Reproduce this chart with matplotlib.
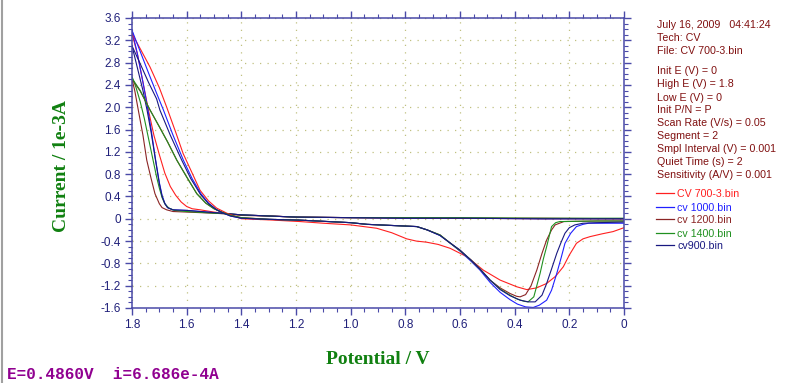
import matplotlib
matplotlib.use("Agg")
import matplotlib.pyplot as plt
from matplotlib.lines import Line2D
from matplotlib.ticker import MultipleLocator

# ---- data (E in V, i in 1e-3 A) ----
names = ["CV 700-3.bin", "cv 1000.bin", "cv 1200.bin", "cv 1400.bin", "cv900.bin"]
colors = ["#ff2020", "#2020ff", "#8b2525", "#209020", "#181880"]

# forward scans, 0 -> 1.8 V
red_fwd_E = [0.0, 0.3, 0.6, 0.8, 1.0, 1.2, 1.3, 1.4, 1.45, 1.5, 1.55, 1.58, 1.6, 1.62, 1.64, 1.66, 1.68, 1.7, 1.72, 1.74, 1.76, 1.78, 1.8]
red_fwd_I = [0.0, 0.0, 0.01, 0.01, 0.02, 0.03, 0.05, 0.07, 0.09, 0.12, 0.16, 0.18, 0.22, 0.3, 0.42, 0.58, 0.82, 1.15, 1.5, 1.95, 2.45, 2.95, 3.32]
blue_fwd_E = [0.0, 0.3, 0.6, 0.8, 1.0, 1.2, 1.3, 1.4, 1.45, 1.5, 1.55, 1.6, 1.65, 1.67, 1.68, 1.69, 1.7, 1.715, 1.73, 1.745, 1.76, 1.78, 1.8]
blue_fwd_I = [0.0, 0.0, 0.01, 0.01, 0.02, 0.03, 0.05, 0.07, 0.09, 0.11, 0.13, 0.15, 0.16, 0.2, 0.28, 0.42, 0.65, 1.1, 1.6, 2.05, 2.45, 2.95, 3.38]
brown_fwd_E = [0.0, 0.3, 0.6, 0.8, 1.0, 1.2, 1.3, 1.4, 1.45, 1.5, 1.6, 1.65, 1.673, 1.69, 1.7, 1.716, 1.73, 1.746, 1.76, 1.777, 1.79, 1.8]
brown_fwd_I = [0.0, 0.01, 0.01, 0.02, 0.02, 0.03, 0.05, 0.06, 0.085, 0.1, 0.12, 0.13, 0.16, 0.2, 0.27, 0.45, 0.72, 1.05, 1.5, 1.95, 2.3, 2.5]
green_fwd_E = [0.0, 0.3, 0.6, 0.8, 1.0, 1.2, 1.3, 1.4, 1.45, 1.5, 1.6, 1.645, 1.665, 1.68, 1.69, 1.7, 1.71, 1.725, 1.74, 1.755, 1.77, 1.785, 1.8]
green_fwd_I = [0.01, 0.01, 0.02, 0.02, 0.02, 0.03, 0.05, 0.07, 0.09, 0.1, 0.13, 0.15, 0.19, 0.27, 0.38, 0.55, 0.75, 1.1, 1.45, 1.8, 2.1, 2.35, 2.55]
navy_fwd_E = [0.0, 0.3, 0.6, 0.8, 1.0, 1.2, 1.3, 1.4, 1.45, 1.5, 1.55, 1.6, 1.65, 1.67, 1.68, 1.69, 1.7, 1.715, 1.73, 1.745, 1.76, 1.78, 1.8]
navy_fwd_I = [0.0, 0.0, 0.01, 0.01, 0.02, 0.03, 0.05, 0.07, 0.09, 0.11, 0.13, 0.15, 0.16, 0.2, 0.27, 0.4, 0.63, 1.08, 1.55, 1.95, 2.3, 2.7, 3.1]

# reverse scans, 1.8 -> 0 V
red_rev_E = [1.8, 1.77, 1.734, 1.7, 1.673, 1.64, 1.613, 1.58, 1.551, 1.52, 1.49, 1.453, 1.42, 1.4, 1.35, 1.3, 1.185, 1.1, 1.0, 0.905, 0.85, 0.795, 0.76, 0.722, 0.68, 0.636, 0.575, 0.515, 0.453, 0.392, 0.356, 0.32, 0.283, 0.25, 0.222, 0.2, 0.174, 0.15, 0.124, 0.08, 0.04, 0.0]
red_rev_I = [3.32, 3.05, 2.72, 2.35, 2.0, 1.55, 1.17, 0.82, 0.51, 0.32, 0.19, 0.1, 0.04, 0.0, -0.01, -0.02, -0.05, -0.08, -0.11, -0.17, -0.25, -0.36, -0.4, -0.42, -0.46, -0.53, -0.68, -0.92, -1.1, -1.22, -1.27, -1.24, -1.16, -1.03, -0.86, -0.65, -0.44, -0.36, -0.32, -0.27, -0.23, -0.16]
blue_rev_E = [1.8, 1.77, 1.74, 1.71, 1.685, 1.65, 1.612, 1.58, 1.548, 1.52, 1.49, 1.47, 1.44, 1.4, 1.3, 1.185, 1.0, 0.94, 0.85, 0.758, 0.72, 0.673, 0.64, 0.6, 0.56, 0.527, 0.49, 0.453, 0.417, 0.39, 0.36, 0.332, 0.31, 0.283, 0.265, 0.246, 0.23, 0.216, 0.195, 0.174, 0.15, 0.13, 0.0]
blue_rev_I = [3.38, 3.0, 2.62, 2.25, 1.95, 1.5, 1.05, 0.72, 0.45, 0.28, 0.16, 0.11, 0.05, 0.01, -0.01, -0.025, -0.07, -0.1, -0.12, -0.14, -0.2, -0.3, -0.42, -0.58, -0.76, -0.92, -1.14, -1.32, -1.45, -1.53, -1.58, -1.59, -1.55, -1.46, -1.28, -0.98, -0.7, -0.44, -0.26, -0.14, -0.1, -0.08, -0.08]
brown_rev_E = [1.8, 1.77, 1.734, 1.7, 1.67, 1.636, 1.6, 1.563, 1.53, 1.5, 1.472, 1.44, 1.4, 1.3, 1.185, 1.0, 0.94, 0.85, 0.758, 0.72, 0.673, 0.64, 0.6, 0.56, 0.527, 0.49, 0.453, 0.417, 0.393, 0.38, 0.36, 0.34, 0.319, 0.3, 0.283, 0.265, 0.252, 0.22, 0.1, 0.0]
brown_rev_I = [2.5, 2.29, 1.95, 1.65, 1.38, 1.05, 0.75, 0.45, 0.28, 0.18, 0.12, 0.06, 0.02, -0.01, -0.025, -0.07, -0.1, -0.12, -0.14, -0.2, -0.29, -0.42, -0.57, -0.74, -0.9, -1.1, -1.24, -1.34, -1.39, -1.4, -1.36, -1.2, -0.92, -0.62, -0.38, -0.2, -0.11, -0.05, -0.04, -0.04]
green_rev_E = [1.8, 1.77, 1.734, 1.7, 1.67, 1.636, 1.6, 1.563, 1.53, 1.5, 1.472, 1.44, 1.4, 1.3, 1.185, 1.0, 0.94, 0.85, 0.758, 0.72, 0.673, 0.64, 0.6, 0.56, 0.527, 0.49, 0.453, 0.417, 0.39, 0.365, 0.351, 0.33, 0.307, 0.295, 0.283, 0.265, 0.25, 0.235, 0.1, 0.0]
green_rev_I = [2.52, 2.3, 1.95, 1.65, 1.38, 1.05, 0.75, 0.45, 0.28, 0.18, 0.12, 0.06, 0.02, -0.01, -0.025, -0.07, -0.1, -0.12, -0.14, -0.2, -0.29, -0.42, -0.57, -0.74, -0.9, -1.1, -1.26, -1.37, -1.44, -1.48, -1.49, -1.4, -0.98, -0.72, -0.5, -0.14, -0.07, -0.05, -0.04, -0.04]
navy_rev_E = [1.8, 1.77, 1.74, 1.71, 1.698, 1.66, 1.618, 1.585, 1.55, 1.52, 1.49, 1.47, 1.44, 1.4, 1.3, 1.185, 1.0, 0.94, 0.85, 0.758, 0.72, 0.673, 0.64, 0.6, 0.56, 0.527, 0.49, 0.453, 0.417, 0.38, 0.35, 0.325, 0.3, 0.283, 0.265, 0.246, 0.23, 0.216, 0.2, 0.18, 0.15, 0.1, 0.0]
navy_rev_I = [3.1, 2.78, 2.45, 2.15, 1.95, 1.5, 1.05, 0.72, 0.44, 0.27, 0.16, 0.11, 0.05, 0.01, -0.01, -0.025, -0.07, -0.1, -0.12, -0.14, -0.2, -0.3, -0.42, -0.56, -0.74, -0.9, -1.1, -1.27, -1.38, -1.46, -1.49, -1.49, -1.37, -1.16, -0.9, -0.62, -0.42, -0.26, -0.16, -0.11, -0.08, -0.07, -0.06]

fwd = [(red_fwd_E, red_fwd_I), (blue_fwd_E, blue_fwd_I), (brown_fwd_E, brown_fwd_I),
       (green_fwd_E, green_fwd_I), (navy_fwd_E, navy_fwd_I)]
rev = [(red_rev_E, red_rev_I), (blue_rev_E, blue_rev_I), (brown_rev_E, brown_rev_I),
       (green_rev_E, green_rev_I), (navy_rev_E, navy_rev_I)]

x_ticks = [1.8, 1.6, 1.4, 1.2, 1.0, 0.8, 0.6, 0.4, 0.2, 0.0]
y_ticks = [3.6, 3.2, 2.8, 2.4, 2.0, 1.6, 1.2, 0.8, 0.4, 0.0, -0.4, -0.8, -1.2, -1.6]

info_lines = ["July 16, 2009   04:41:24", "Tech: CV", "File: CV 700-3.bin",
              "Init E (V) = 0", "High E (V) = 1.8", "Low E (V) = 0", "Init P/N = P",
              "Scan Rate (V/s) = 0.05", "Segment = 2", "Smpl Interval (V) = 0.001",
              "Quiet Time (s) = 2", "Sensitivity (A/V) = 0.001"]
status_text = "E=0.4860V  i=6.686e-4A"

# ---- figure ----
W, H = 800, 383
fig = plt.figure(figsize=(W / 100, H / 100), dpi=100)
fig.patch.set_facecolor("white")


def fx(px):
    return px / W


def fy(py):
    return 1 - py / H


ax = fig.add_axes([fx(132), fy(308), fx(624) - fx(132), fy(18) - fy(308)])

for (e, i), c in zip(fwd, colors):
    ax.plot(e, i, color=c, lw=0.8)
for (e, i), c in zip(rev, colors):
    ax.plot(e, i, color=c, lw=0.8)

ax.set_xlim(1.8, 0.0)
ax.set_ylim(-1.6, 3.6)

frame_col = "#4a4aa8"
for s in ax.spines.values():
    s.set_color(frame_col)
    s.set_linewidth(1.1)

ax.set_xticks(x_ticks)
ax.set_xticklabels(["0" if v == 0 else "%.1f" % v for v in x_ticks])
ax.set_yticks(y_ticks)
ax.set_yticklabels(["0" if v == 0 else "%.1f" % v for v in y_ticks])
ax.xaxis.set_minor_locator(MultipleLocator(0.05))
ax.yaxis.set_minor_locator(MultipleLocator(0.1))
ax.tick_params(which="both", direction="out", color=frame_col, top=True, right=True,
               labelcolor="#20207a", labelsize=8.5)
ax.tick_params(which="major", length=5, width=1.0, pad=3)
ax.tick_params(which="minor", length=3, width=0.8)
for lab in ax.get_xticklabels() + ax.get_yticklabels():
    lab.set_fontfamily("Liberation Sans")

ax.grid(True, which="major", color="#c0c080", linestyle=(0, (1, 5)), lw=0.9)

serif_kw = dict(family="Liberation Serif", weight="bold", color="#108010", fontsize=14)
fig.text(fx(378), fy(359), "Potential / V", ha="center", va="center", **serif_kw)
fig.text(fx(62), fy(166), "Current / 1e-3A", ha="center", va="center", rotation=90, **serif_kw)

# parameter block
info_y = [24, 37, 50, 70, 83, 97, 109, 122, 135, 148, 161, 174]
for t, y in zip(info_lines, info_y):
    fig.text(fx(657), fy(y + 3.6), t, ha="left", va="baseline", color="#801010",
             fontsize=7.7, family="Liberation Sans")

# legend
leg_y = [193, 207, 219, 233, 245]
for n, c, y in zip(names, colors, leg_y):
    fig.add_artist(Line2D([fx(656), fx(674)], [fy(y), fy(y)], color=c, lw=0.9))
    fig.text(fx(677), fy(y + 3.6), n, ha="left", va="baseline", color=c,
             fontsize=7.7, family="Liberation Sans")

fig.text(fx(7), fy(379), status_text, ha="left", va="baseline", color="#900090",
         fontsize=11.5, family="Liberation Mono", weight="bold")

fig.add_artist(Line2D([fx(1.5), fx(1.5)], [0, 1], color="#a0a0a0", lw=1.5))

fig.savefig("out.png", dpi=100)
